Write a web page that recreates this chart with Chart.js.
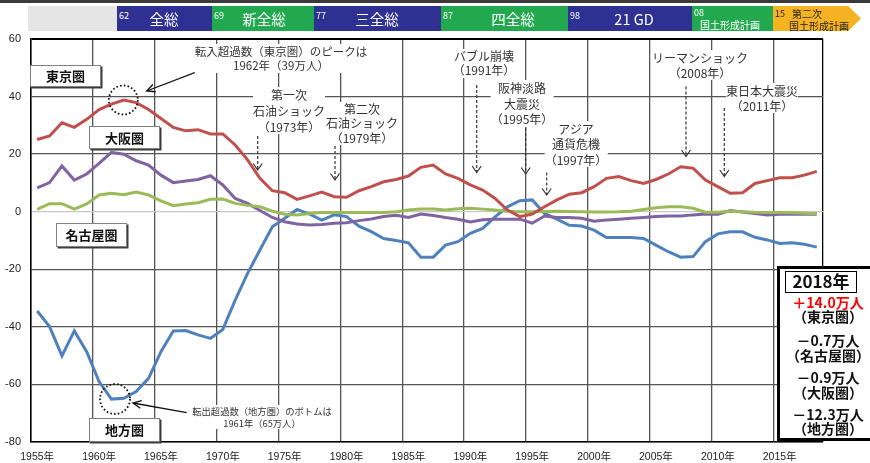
<!DOCTYPE html>
<html><head><meta charset="utf-8">
<script src="https://cdn.jsdelivr.net/npm/chart.js@4.4.1/dist/chart.umd.min.js"></script>
<style>
html,body{margin:0;padding:0;background:#fff;}
#wrap{position:relative;width:870px;height:463px;overflow:hidden;font-family:'Noto Sans CJK JP','Noto Sans',sans-serif;}
#c{position:absolute;left:0;top:0;}
.seg{position:absolute;top:6px;height:25px;}
.num{position:absolute;font-size:9px;line-height:10px;color:#fff;white-space:nowrap;}
.ttl{position:absolute;transform:translateX(-50%);white-space:nowrap;color:#fff;}
.lab{position:absolute;background:#fff;border:1px solid #808080;box-shadow:1.5px 1.5px 0 #3c3c3c;font-weight:bold;font-size:13px;text-align:center;color:#111;box-sizing:border-box;}
.ann{position:absolute;background:#fff;color:#333;font-size:12px;text-align:center;white-space:nowrap;transform:translateX(-50%);}
.rb{position:absolute;left:776px;width:104px;text-align:center;font-weight:bold;font-size:14px;line-height:18px;color:#111;white-space:nowrap;}
</style>
</head><body>
<div id="wrap">
<canvas id="c" width="870" height="463"></canvas>
<div style="position:absolute;left:0;top:0;width:870px;height:2.5px;background:#3a3a3a"></div>
<div class="seg" style="left:28px;width:89px;background:#e5e5e5"></div>
<div class="seg" style="left:117px;width:95px;background:#2e3192"></div>
<div class="seg" style="left:212px;width:102px;background:#22a84f"></div>
<div class="seg" style="left:314px;width:127px;background:#2e3192"></div>
<div class="seg" style="left:441px;width:127px;background:#22a84f"></div>
<div class="seg" style="left:568px;width:124px;background:#2e3192"></div>
<div class="seg" style="left:692px;width:81px;background:#22a84f"></div>
<div class="seg" style="left:773px;width:88px;background:#f5b324;clip-path:polygon(0 0,85.5% 0,100% 50%,85.5% 100%,0 100%)"></div>
<div class="num" style="left:119px;top:11px">62</div>
<div class="num" style="left:214px;top:11px">69</div>
<div class="num" style="left:316px;top:11px">77</div>
<div class="num" style="left:443px;top:11px">87</div>
<div class="num" style="left:570px;top:11px">98</div>
<div class="num" style="left:694px;top:8px">08</div>
<div class="num" style="left:775px;top:9px;color:#222">15</div>
<div class="ttl" style="left:164px;top:9px;font-size:14.5px;line-height:20px">全総</div>
<div class="ttl" style="left:264px;top:9px;font-size:14.5px;line-height:20px">新全総</div>
<div class="ttl" style="left:377px;top:9px;font-size:14.5px;line-height:20px">三全総</div>
<div class="ttl" style="left:513px;top:9px;font-size:14.5px;line-height:20px">四全総</div>
<div class="ttl" style="left:634px;top:9px;font-size:14.5px;line-height:20px">21 GD</div>
<div class="ttl" style="left:730px;top:18px;font-size:10px;line-height:13px">国土形成計画</div>
<div class="ttl" style="left:807px;top:7px;font-size:10px;line-height:13px;color:#222">第二次</div>
<div class="ttl" style="left:819px;top:18.5px;font-size:10px;line-height:13px;color:#222">国土形成計画</div>

<div class="lab" style="left:30px;top:65px;width:71px;height:22px;line-height:20px">東京圏</div>
<div class="lab" style="left:89px;top:126px;width:71px;height:23px;line-height:21px">大阪圏</div>
<div class="lab" style="left:56px;top:223px;width:71px;height:24px;line-height:22px">名古屋圏</div>
<div class="lab" style="left:89px;top:418px;width:71px;height:24px;line-height:22px">地方圏</div>

<div class="ann" style="left:281px;top:43.5px;font-size:11.5px;line-height:14.5px">転入超過数（東京圏）のピークは<br>1962年（39万人）</div>
<div class="ann" style="left:289px;top:87px;line-height:15.8px">第一次<br>石油ショック<br>（1973年）</div>
<div class="ann" style="left:362px;top:101.5px;line-height:14.5px">第二次<br>石油ショック<br>（1979年）</div>
<div class="ann" style="left:484px;top:48.5px;line-height:14.7px">バブル崩壊<br>（1991年）</div>
<div class="ann" style="left:522px;top:80px;line-height:15.5px">阪神淡路<br>大震災<br>（1995年）</div>
<div class="ann" style="left:576px;top:120.5px;line-height:15.5px">アジア<br>通貨危機<br>（1997年）</div>
<div class="ann" style="left:700px;top:49.5px;line-height:15px">リーマンショック<br>（2008年）</div>
<div class="ann" style="left:762px;top:82.5px;line-height:15px">東日本大震災<br>（2011年）</div>
<div class="ann" style="left:262px;top:405px;font-size:9.3px;line-height:12px">転出超過数（地方圏）のボトムは<br>1961年（65万人）</div>

<div style="position:absolute;left:776.5px;top:266px;width:104px;height:175px;border:3.5px solid #000;box-sizing:border-box;background:#fff"></div>
<div style="position:absolute;left:785px;top:271px;width:72px;height:21.5px;border:1.5px solid #000;box-sizing:border-box;text-align:center;font-weight:bold;font-size:17px;line-height:18.5px;color:#111">2018年</div>
<div class="rb" style="top:293px;color:#ff0000">＋14.0万人</div>
<div class="rb" style="top:307px">（東京圏）</div>
<div class="rb" style="top:331px">－0.7万人</div>
<div class="rb" style="top:346px">（名古屋圏）</div>
<div class="rb" style="top:368px">－0.9万人</div>
<div class="rb" style="top:383px">（大阪圏）</div>
<div class="rb" style="top:405px">－12.3万人</div>
<div class="rb" style="top:419px">（地方圏）</div>
</div>
<script>
const years = [1955,1956,1957,1958,1959,1960,1961,1962,1963,1964,
  1965,1966,1967,1968,1969,1970,1971,1972,1973,1974,
  1975,1976,1977,1978,1979,1980,1981,1982,1983,1984,
  1985,1986,1987,1988,1989,1990,1991,1992,1993,1994,
  1995,1996,1997,1998,1999,2000,2001,2002,2003,2004,
  2005,2006,2007,2008,2009,2010,2011,2012,2013,2014,
  2015,2016,2017,2018];
const tickLabels = ['1955年','1960年','1965年','1970年','1975年','1980年','1985年','1990年','1995年','2000年','2005年','2010年','2015年'];
const tokyo = [25.1,26.3,30.9,29.3,32.1,35.5,37.4,38.8,37.9,35.5,
  32.4,29.3,28.1,28.5,27.0,27.0,23.2,18.0,11.6,7.3,
  6.6,4.3,5.5,6.8,5.2,5.0,7.3,8.7,10.4,11.2,
  12.4,15.4,16.2,13.1,11.6,9.3,7.5,4.6,0.6,-1.7,
  -0.8,1.7,4.1,6.1,6.6,8.7,11.6,12.2,10.8,9.8,
  11.2,13.1,15.6,15.1,11.0,8.7,6.4,6.6,9.8,10.8,
  11.8,11.8,12.7,14.0];
const osaka = [8.3,10.1,15.9,11.0,13.1,16.8,20.6,20.0,17.7,16.2,
  12.7,10.1,10.7,11.2,12.5,9.3,4.6,2.9,0.4,-2.0,
  -3.5,-4.3,-4.6,-4.4,-4.0,-3.8,-3.1,-2.5,-1.7,-1.2,
  -2.0,-0.8,-1.3,-2.0,-2.6,-3.6,-2.8,-2.6,-2.6,-2.6,
  -4.0,-1.5,-2.0,-2.0,-2.3,-3.3,-2.9,-2.6,-2.3,-2.0,
  -1.7,-1.5,-1.5,-1.1,-0.8,-0.9,0.4,-0.1,-0.6,-1.1,
  -0.9,-0.9,-0.9,-0.9];
const nagoya = [0.8,2.8,2.8,0.9,2.7,5.8,6.4,5.9,6.8,5.8,
  3.8,2.1,2.7,3.1,4.3,4.4,2.9,2.2,1.7,0.2,
  -0.9,-1.1,-0.6,-0.3,-0.3,-0.3,-0.3,-0.3,-0.3,0.0,
  0.6,0.9,0.9,0.6,1.0,1.2,0.9,0.6,0.2,0.0,
  0.0,0.1,0.2,0.1,0.0,-0.1,-0.1,0.0,0.2,0.8,
  1.4,1.7,1.7,1.2,-0.2,-0.2,0.2,0.0,-0.2,-0.3,
  -0.3,-0.4,-0.5,-0.7];
const chiho = [-34.5,-39.9,-50.1,-41.4,-48.6,-59.0,-65.1,-64.8,-62.5,-57.9,
  -48.6,-41.4,-41.3,-42.8,-44.0,-40.9,-30.7,-21.4,-13.3,-5.2,
  -2.3,0.8,-0.8,-2.9,-1.1,-1.7,-5.0,-6.9,-9.3,-10.0,
  -10.8,-15.8,-15.8,-11.6,-10.4,-7.5,-5.8,-1.8,1.7,3.8,
  4.1,-0.6,-2.6,-4.7,-5.0,-6.4,-9.0,-9.0,-9.0,-9.3,
  -11.6,-13.9,-15.8,-15.6,-10.4,-7.7,-7.0,-7.0,-8.9,-9.8,
  -11.0,-10.8,-11.3,-12.3];

// decorative annotation geometry (pixels)
const dashArrows = [
  {x:257.7, y1:121, y2:170}, {x:335, y1:146, y2:180}, {x:476.7, y1:85, y2:172.5},
  {x:525.7, y1:128, y2:174}, {x:546.7, y1:172.5, y2:195}, {x:686, y1:86.5, y2:156.5},
  {x:724.3, y1:108, y2:176.5}
];
const solidArrows = [{x1:207.7, y1:67.7, x2:146.7, y2:91}, {x1:186.7, y1:412.7, x2:133, y2:403}];
const dotCircles = [{x:123.3, y:100, r:14.5}, {x:115, y:399, r:15}];

const overlay = {
  id: 'overlay',
  afterDraw(chart) {
    const ctx = chart.ctx;
    ctx.save();
    ctx.strokeStyle = '#333'; ctx.lineWidth = 1.2;
    dashArrows.forEach(a => {
      ctx.setLineDash([3, 2]);
      ctx.beginPath(); ctx.moveTo(a.x, a.y1); ctx.lineTo(a.x, a.y2); ctx.stroke();
      ctx.setLineDash([]);
      ctx.beginPath(); ctx.moveTo(a.x - 4.5, a.y2 - 6.5); ctx.lineTo(a.x, a.y2); ctx.lineTo(a.x + 4.5, a.y2 - 6.5); ctx.stroke();
    });
    ctx.strokeStyle = '#111'; ctx.lineWidth = 1.3;
    solidArrows.forEach(a => {
      ctx.beginPath(); ctx.moveTo(a.x1, a.y1); ctx.lineTo(a.x2, a.y2); ctx.stroke();
      const ang = Math.atan2(a.y1 - a.y2, a.x1 - a.x2);
      ctx.beginPath();
      ctx.moveTo(a.x2 + 9 * Math.cos(ang + 0.45), a.y2 + 9 * Math.sin(ang + 0.45));
      ctx.lineTo(a.x2, a.y2);
      ctx.lineTo(a.x2 + 9 * Math.cos(ang - 0.45), a.y2 + 9 * Math.sin(ang - 0.45));
      ctx.stroke();
    });
    ctx.lineWidth = 1.8; ctx.setLineDash([1.6, 2.2]);
    dotCircles.forEach(c => { ctx.beginPath(); ctx.arc(c.x, c.y, c.r, 0, Math.PI * 2); ctx.stroke(); });
    ctx.restore();
  }
};

const tickFont = {family: "'Liberation Sans','Noto Sans CJK JP',sans-serif", size: 11};
new Chart(document.getElementById('c'), {
  type: 'line',
  data: {
    labels: years,
    datasets: [
      {label: '東京圏', data: tokyo, borderColor: '#c0504d'},
      {label: '名古屋圏', data: nagoya, borderColor: '#9bbb59'},
      {label: '大阪圏', data: osaka, borderColor: '#8064a2'},
      {label: '地方圏', data: chiho, borderColor: '#4f81bd'}
    ]
  },
  options: {
    responsive: false, animation: false, devicePixelRatio: 1,
    layout: {padding: {left: 0, top: 39, right: 47, bottom: 0}},
    plugins: {legend: {display: false}, tooltip: {enabled: false}},
    elements: {point: {radius: 0}, line: {borderWidth: 3, tension: 0}},
    scales: {
      x: {
        type: 'category', offset: true,
        grid: {offset: true, drawTicks: false, lineWidth: 1.3,
          color: c => (c.tick === undefined) ? '#000' : (years[c.index] % 5 === 0 ? '#555' : 'rgba(0,0,0,0)')},
        border: {display: true, color: '#000', width: 1.5},
        ticks: {autoSkip: false, maxRotation: 0, minRotation: 0, padding: 9, color: '#222',
          font: {family: tickFont.family, size: 10.5},
          callback: (v, i) => years[i] % 5 === 0 ? tickLabels[(years[i] - years[0]) / 5] : ''},
        afterFit: s => { s.height = 21; }
      },
      y: {
        min: -80, max: 60,
        ticks: {stepSize: 20, padding: 10, color: '#222', font: tickFont},
        grid: {drawTicks: false,
          color: c => c.tick && c.tick.value === 0 ? '#c8c8c8' : (c.tick && c.tick.value === 60 ? '#000' : '#555'),
          lineWidth: c => c.tick && c.tick.value === 60 ? 2 : 1.3},
        border: {display: true, color: '#000', width: 1.5},
        afterFit: s => { s.width = 31; }
      }
    }
  },
  plugins: [overlay]
});
</script>
</body></html>
